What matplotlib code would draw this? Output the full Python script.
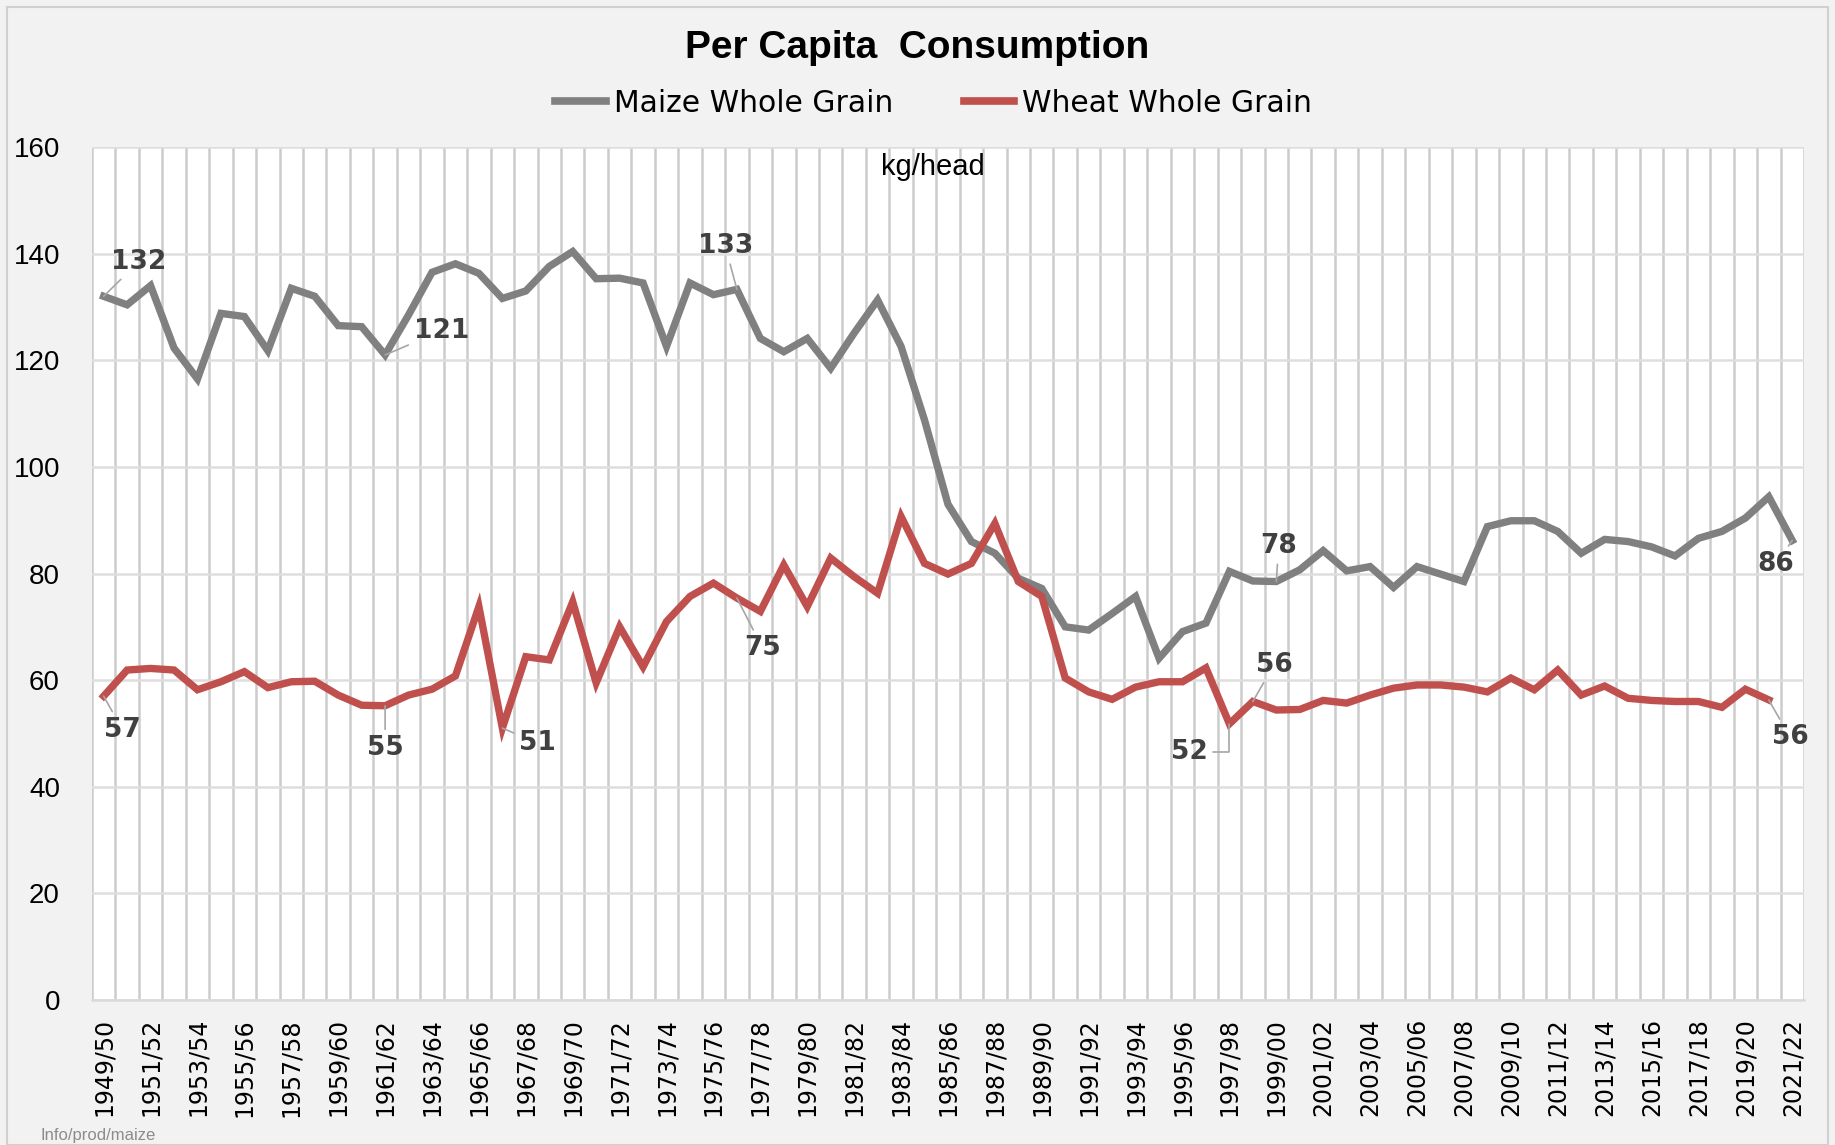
import numpy as np
import matplotlib
matplotlib.use('Agg')
import matplotlib.pyplot as plt
from matplotlib.lines import Line2D
from matplotlib.patches import Rectangle

# 1) Data ===
seasons = [f"{y}/{(y + 1) % 100:02d}" for y in range(1949, 2022)]

maize = [132.0, 130.4, 134.0, 122.3, 116.5, 128.8, 128.2, 121.8, 133.5, 132.0,
         126.5, 126.3, 121.0, 128.5, 136.5, 138.1, 136.3, 131.6, 133.0, 137.6,
         140.4, 135.3, 135.4, 134.5, 122.6, 134.5, 132.3, 133.3, 124.1, 121.6,
         124.1, 118.5, 125.1, 131.3, 122.6, 108.8, 93.0, 86.0, 83.8, 79.1,
         77.2, 70.0, 69.4, 72.5, 75.7, 64.1, 69.1, 70.7, 80.4, 78.6,
         78.5, 80.7, 84.3, 80.5, 81.3, 77.4, 81.3, 79.9, 78.5, 88.8,
         89.9, 89.9, 87.9, 83.8, 86.4, 86.0, 85.0, 83.3, 86.6, 87.9,
         90.4, 94.4, 86.2]

wheat = [57.0, 61.9, 62.2, 61.9, 58.2, 59.7, 61.6, 58.6, 59.7, 59.8,
         57.2, 55.3, 55.2, 57.2, 58.3, 60.8, 73.8, 51.0, 64.4, 63.8,
         74.7, 59.5, 70.0, 62.5, 71.0, 75.7, 78.2, 75.4, 72.9, 81.6,
         73.8, 82.9, 79.4, 76.3, 90.7, 81.9, 79.9, 81.9, 89.4, 78.5,
         75.7, 60.4, 57.8, 56.4, 58.7, 59.7, 59.7, 62.3, 51.8, 56.0,
         54.4, 54.5, 56.2, 55.7, 57.2, 58.5, 59.1, 59.1, 58.7, 57.8,
         60.4, 58.2, 61.9, 57.2, 58.9, 56.6, 56.2, 56.0, 56.0, 54.9,
         58.3, 56.3, np.nan]

# data labels: (index, text, label x, label y)
maize_labels = [(0, '132', 1.5, 138.5), (12, '121', 14.4, 125.5), (27, '133', 26.5, 141.5),
                (50, '78', 50.1, 85.2), (72, '86', 71.3, 81.8)]
wheat_labels = [(0, '57', 0.8, 50.7), (12, '55', 12.0, 47.3), (17, '51', 18.5, 48.2),
                (27, '75', 28.1, 66.0), (48, '52', 46.3, 46.5), (49, '56', 49.9, 62.9),
                (71, '56', 71.9, 49.3)]

grey = '#808080'
red = '#C0504D'
x = np.arange(len(seasons))

# 2) Figure ===
fig = plt.figure(figsize=(18.35, 11.45), dpi=100, facecolor='#f2f2f2')
fig.patches.append(Rectangle((0.004, 0.0), 0.992, 0.994, transform=fig.transFigure,
                             fill=False, edgecolor='#d0d0d0', lw=1.5))
ax = fig.add_axes([0.0501, 0.1266, 0.9330, 0.7450])
ax.set_facecolor('white')

ax.plot(x, maize, color=grey, lw=5.3, solid_joinstyle='miter', zorder=3)
ax.plot(x, wheat, color=red, lw=5.3, solid_joinstyle='miter', zorder=3)

ax.set_xlim(-0.5, len(seasons) - 0.5)
ax.set_ylim(0, 160)
ax.set_yticks(range(0, 161, 20))
ax.set_xticks(x[::2])
ax.set_xticklabels(seasons[::2], rotation=90, fontsize=17, family='DejaVu Sans')
ax.set_xticks(np.arange(-0.5, len(seasons), 1), minor=True)
ax.tick_params(axis='x', which='both', length=0, pad=13)
ax.tick_params(axis='y', length=0, pad=23, labelsize=20)
for lab in ax.get_yticklabels():
    lab.set_family('Liberation Sans')

ax.grid(axis='x', which='minor', color='#cccccc', lw=1.8, zorder=1)
ax.grid(axis='y', which='major', color='#dedede', lw=1.8, zorder=1)
for s in ['left', 'right', 'top']:
    ax.spines[s].set_visible(False)
ax.spines['bottom'].set_color('#d9d9d9')
ax.spines['bottom'].set_linewidth(1.8)

# 3) Data labels ===
for series, labels in [(maize, maize_labels), (wheat, wheat_labels)]:
    for i, txt, lx, ly in labels:
        cs = 'angle,angleA=0,angleB=90,rad=0' if txt == '52' else 'arc3'
        ax.annotate(txt, xy=(i, series[i]), xytext=(lx, ly), ha='center', va='center',
                    fontsize=19, fontweight='bold', color='#404040', family='DejaVu Sans',
                    arrowprops=dict(arrowstyle='-', color='#a6a6a6', lw=1.2,
                                    shrinkA=2, shrinkB=0, connectionstyle=cs),
                    zorder=5)

ax.text(0.491, 0.976, 'kg/head', transform=ax.transAxes, ha='center', va='center',
        fontsize=21, family='Liberation Sans')

# 4) Title, legend, footer ===
fig.text(0.5, 0.958, 'Per Capita  Consumption', ha='center', va='center',
         fontsize=28, fontweight='bold', family='Liberation Sans')
handles = [Line2D([], [], color=grey, lw=5.5), Line2D([], [], color=red, lw=5.5)]
fig.legend(handles, ['Maize Whole Grain', 'Wheat Whole Grain'], loc='center',
           bbox_to_anchor=(0.5087, 0.910), ncol=2, frameon=False,
           prop={'family': 'DejaVu Sans', 'size': 21.5},
           handlelength=1.7, handletextpad=0.25, columnspacing=2.37)
fig.text(0.022, 0.002, 'Info/prod/maize', fontsize=12, color='#8c8c8c',
         family='Liberation Sans', va='bottom')

fig.savefig('out.png', dpi=100, facecolor=fig.get_facecolor())
